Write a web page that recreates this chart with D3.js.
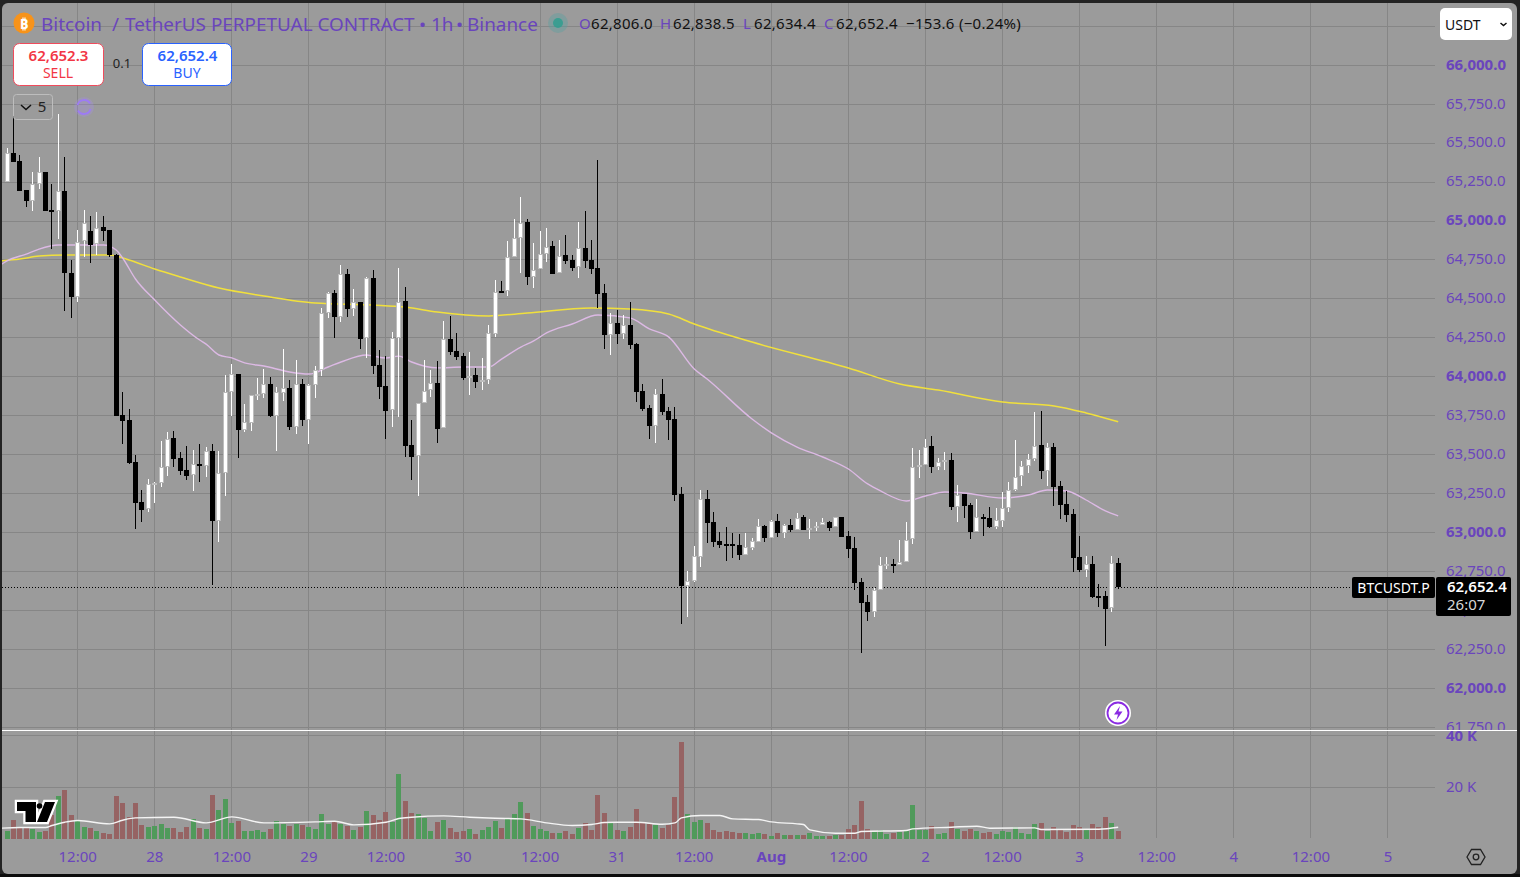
<!DOCTYPE html>
<html><head><meta charset="utf-8">
<script src="https://cdn.jsdelivr.net/npm/d3@7"></script>
<style>html,body{margin:0;padding:0;background:#232323;overflow:hidden}svg{display:block}text{font-family:"Noto Sans",sans-serif}</style>
</head><body><div id="chart"></div>
<script>
const opens=[65251,65437,65386,65199,65129,65238,65315,65071,65065,65193,
64667,64512,64872,64937,64852,64962,64943,64782,63755,63723,
63453,63196,63151,63306,63318,63421,63607,63479,63402,63370,
63440,63428,63524,63075,63383,63902,64018,63659,63704,63876,
63889,63954,63748,63896,63928,63678,63954,63723,63948,64044,
64410,64538,64384,64660,64435,64480,64249,64635,64076,63941,
63787,64249,64487,63562,63492,63832,63915,63960,63672,64242,
64166,64133,63999,64012,63967,63980,64275,64551,64551,64769,
64891,64994,64641,64692,64788,64840,64667,64782,64750,64705,
64827,64750,64699,64538,64269,64346,64275,64333,64210,63909,
63800,63684,63889,63781,63730,63247,62657,62689,62843,63216,
63068,62946,62926,62926,62920,62856,62901,62939,63042,62966,
63075,62998,63049,63017,63100,63017,63030,63049,63068,63036,
63100,62978,62901,62683,62554,62490,62631,62786,62798,62792,
62811,62959,63428,63434,63555,63421,63453,63466,63164,63247,
63177,63004,63100,63094,63036,63075,63158,63273,63363,63428,
63472,63562,63396,63549,63299,63183,63120,62843,62760,62798,
62593,62593,62516,62806];
const highs=[65469,65726,65424,65199,65315,65411,65315,65238,65687,65411,
64750,64943,65071,65032,65058,65032,64943,64788,63902,63793,
63498,63273,63344,63325,63588,63646,63653,63517,63555,63530,
63568,63549,63568,63524,64012,64082,64018,63825,63883,63992,
64050,63999,63935,64178,63980,64108,63986,63954,64069,64442,
64544,64557,64718,64692,64563,64480,64641,64686,64172,64133,
64288,64699,64576,63723,63832,64108,64044,64102,64359,64391,
64282,64153,64159,64057,64121,64333,64622,64615,64872,65013,
65154,65013,64859,64937,64956,64872,64878,64910,64782,64994,
65065,64878,65392,64596,64410,64429,64397,64480,64217,63954,
63819,63921,63986,63806,63806,63292,62753,62914,63273,63273,
63132,63004,63036,62998,62991,62998,62966,63087,63049,63081,
63120,63055,63087,63126,63113,63087,63068,63094,63075,63100,
63100,63010,62972,62709,62599,62644,62843,62843,62830,62952,
63068,63543,63530,63600,63620,63479,63517,63511,63306,63247,
63190,63215,63120,63164,63158,63260,63325,63594,63459,63504,
63774,63781,63575,63575,63331,63267,63151,62978,62850,62850,
62670,62625,62850,62838.5];
const lows=[65251,65379,65193,65090,65065,65206,65065,64820,64885,64423,
64378,64480,64769,64731,64782,64872,64769,63748,63568,63440,
63023,63068,63132,63190,63292,63363,63421,63370,63338,63267,
63325,63357,62664,62939,63235,63748,63479,63646,63653,63851,
63864,63742,63524,63845,63659,63633,63684,63568,63864,64005,
64378,64249,64352,64384,64391,64178,64121,64018,63857,63600,
63678,63742,63485,63338,63235,63832,63870,63575,63672,64140,
64108,63980,63883,63928,63915,63954,64256,64538,64519,64769,
64667,64590,64570,64692,64737,64660,64667,64724,64680,64635,
64699,64660,64442,64178,64140,64210,64242,64178,63838,63781,
63600,63575,63755,63594,63203,62414,62458,62683,62779,62933,
62907,62901,62818,62837,62824,62856,62888,62939,62939,62966,
62972,62966,63004,63017,63017,62959,63010,63049,63010,63036,
62972,62837,62631,62227,62432,62458,62631,62766,62741,62792,
62811,62926,63351,63434,63383,63402,63402,63145,63068,63094,
62959,63004,62978,63030,63023,63036,63132,63267,63299,63383,
63459,63344,63299,63170,63087,63068,62747,62747,62715,62580,
62522,62272,62490,62634.4];
const closes=[65437,65379,65193,65129,65238,65315,65065,65058,65193,64667,
64512,64865,64988,64846,64956,64937,64782,63748,63717,63447,
63190,63145,63312,63318,63421,63601,63472,63396,63363,63440,
63428,63524,63075,63383,63902,64018,63659,63710,63883,63889,
63954,63748,63902,63928,63678,63954,63723,63948,64044,64410,
64538,64384,64660,64435,64480,64242,64635,64069,63935,63781,
64249,64480,63555,63485,63832,63909,63960,63665,64242,64159,
64127,63992,64005,63967,63980,64282,64544,64544,64769,64891,
64988,64641,64686,64788,64833,64660,64776,64744,64699,64827,
64744,64692,64532,64269,64346,64275,64333,64204,63902,63793,
63684,63889,63774,63723,63241,62657,62689,62850,63216,63062,
62939,62920,62920,62914,62856,62907,62946,63042,62966,63075,
62998,63049,63017,63094,63017,63030,63042,63068,63030,63100,
62972,62895,62677,62548,62490,62631,62792,62798,62786,62811,
62952,63421,63434,63549,63421,63453,63466,63164,63241,63170,
63004,63100,63094,63036,63081,63158,63273,63357,63428,63472,
63555,63396,63549,63292,63177,63113,62837,62760,62798,62586,
62586,62510,62805,62652.4];
const volumes=[2850,7380,4140,4140,3880,2590,3110,9320,16690,19020,
9320,7380,4660,4140,3110,2330,1940,16690,13980,8540,
13980,5430,4660,5050,5820,4270,4270,2720,4660,7760,
4270,3880,17080,11260,15530,6210,6990,3110,3110,3490,
2720,3880,6990,5820,5050,5820,5430,4660,3880,9700,
5820,6600,5820,5050,3490,4660,10870,9320,7380,10480,
6600,25230,14750,10090,9700,8150,3110,6600,7380,4270,
2720,3110,3880,1940,3490,4660,6990,4270,8150,9700,
14360,10090,5050,3880,3110,2330,2330,3110,1940,4270,
6210,3490,17080,10090,6080,3490,3110,4660,11650,6470,
5820,5430,4270,5430,16300,37660,9700,6600,7380,6210,
3490,2720,3110,2720,2330,2330,1940,2330,1940,1160,
2330,1550,1550,1550,1550,2330,1160,1160,1160,1550,
1550,3880,5430,14750,3880,2590,3490,1940,2330,2720,
2850,13200,3490,3490,5050,1940,2330,6600,3880,3110,
3880,3110,2330,2720,1940,3110,2720,4660,2330,1940,
5820,6210,3110,4660,3490,2720,5430,4660,3490,5820,
4660,8540,6210,3110];

const fastHours=[-1,0,3,5,8,11,15,17,18,20,23,27,30,31,33,35,37,40,44,47,50,52,56,57,59,61,63,67,71,75,77,80,82,84,88,92,97,100,103,107,109,116,119,123,127,131,134,136,140,143,146,149,155,159,162,165,168,171,173];
const fastMA=[64718,64744,64788,64820,64846,64846,64846,64814,64763,64628,64493,64333,64236,64210,64140,64121,64089,64069,64031,64018,64063,64095,64140,64133,64121,64133,64095,64057,64063,64063,64114,64191,64230,64282,64339,64397,64378,64307,64256,64050,63986,63729,63640,63549,63485,63408,63312,63267,63203,63235,63260,63254,63222,63241,63273,63267,63209,63139,63107];
const slowHours=[-1,2,5,9,16,19,23,27,33,40,48,57,62,67,75,81,91,97,103,107,116,131,139,145,155,163,168,173];
const slowMA=[64744,64756,64775,64782,64782,64750,64692,64641,64570,64519,64474,64461,64448,64416,64391,64410,64442,64435,64403,64339,64223,64057,63954,63915,63838,63813,63768,63711];
const volHours=[-1,2,6,7,9,11,16,18,20,26,31,35,40,48,51,54,59,61,63,68,72,76,80,84,88,91,93,95,98,102,104,105,108,111,113,117,119,123,124,125,129,132,133,140,141,147,151,153,160,161,170,173];
const volMA=[4010,4270,4270,5050,6340,6990,5690,7120,8020,8280,6080,8410,6080,6470,6730,5310,6340,7760,8280,8800,8280,7890,7630,6080,5050,5430,6210,6340,6340,5560,6080,8020,8930,8930,7630,7380,6470,5690,5430,3360,2070,2070,2720,3110,3750,4400,4790,4010,4140,3490,3620,4400];

const priceTicks=[61750,62000,62250,62500,62750,63000,63250,63500,63750,64000,64250,64500,64750,65000,65250,65500,65750,66000,66250];
const volTicks=[20000,40000];
const timeHours=[11,23,35,47,59,71,83,95,107,119,131,143,155,167,179,191,203,215];
const timeLabels=["12:00","28","12:00","29","12:00","30","12:00","31","12:00","Aug","12:00","2","12:00","3","12:00","4","12:00","5"];
const lastPrice=62652.4;

const W=1520,H=877;
const INK="#6a45bd", BG="#9b9b9b", GRID="#868686";
const x=d3.scaleLinear().domain([0,173]).range([7.0,7.0+173*6.423]);
const y=d3.scaleLinear().domain([61750,66000]).range([65.3+4250*0.15575,65.3]);
const yv=d3.scaleLinear().domain([0,40000]).range([838.5,735.7]);
const n=opens.length, idx=d3.range(n);
const svg=d3.select("#chart").append("svg").attr("width",W).attr("height",H).attr("viewBox",`0 0 ${W} ${H}`);
const defs=svg.append("defs");
defs.append("clipPath").attr("id","paneClip").append("rect").attr("x",2).attr("y",3).attr("width",1515).attr("height",727);
defs.append("clipPath").attr("id","frameClip").append("rect").attr("x",2).attr("y",3).attr("width",1515).attr("height",871).attr("rx",6);
svg.append("rect").attr("width",W).attr("height",H).attr("fill","#232323");
svg.append("rect").attr("y",874).attr("width",W).attr("height",3).attr("fill","#0c0c0c");
const root=svg.append("g").attr("clip-path","url(#frameClip)");
root.append("rect").attr("x",2).attr("y",3).attr("width",1515).attr("height",871).attr("fill",BG);

const crisp=v=>Math.round(v)+0.5;
const px=v=>Math.floor(v);
// grid
const gridG=root.append("g").attr("stroke",GRID).attr("stroke-width",1);
gridG.selectAll("line.v").data(timeHours).join("line").attr("x1",d=>px(x(d))+0.5).attr("x2",d=>px(x(d))+0.5).attr("y1",3).attr("y2",838);
const paneGrid=root.append("g").attr("clip-path","url(#paneClip)").attr("stroke",GRID);
paneGrid.selectAll("line").data(priceTicks).join("line").attr("x1",2).attr("x2",1435).attr("y1",d=>Math.floor(y(d))+0.5).attr("y2",d=>Math.floor(y(d))+0.5);
gridG.selectAll("line.h").data(volTicks).join("line").attr("x1",2).attr("x2",1435).attr("y1",d=>Math.floor(yv(d))+0.5).attr("y2",d=>Math.floor(yv(d))+0.5);

// volume
root.append("g").selectAll("rect").data(idx).join("rect")
 .attr("x",i=>px(x(i))-2).attr("width",5)
 .attr("y",i=>Math.round(yv(volumes[i]))).attr("height",i=>839-Math.round(yv(volumes[i])))
 .attr("fill",i=>closes[i]>=opens[i]?"#509a5b":"#966363");
const line=(xs,sx,sy)=>d3.line().x((d,i)=>sx(xs[i])).y(d=>sy(d)).curve(d3.curveMonotoneX);
root.append("path").datum(volMA).attr("d",line(volHours,x,yv)).attr("fill","none").attr("stroke","#f4f4f4").attr("stroke-width",1.4);

const pane=root.append("g").attr("clip-path","url(#paneClip)");
// MAs
pane.append("path").datum(slowMA).attr("d",line(slowHours,x,y)).attr("fill","none").attr("stroke","#f1e03c").attr("stroke-width",1.5);
pane.append("path").datum(fastMA).attr("d",line(fastHours,x,y)).attr("fill","none").attr("stroke","#dcb9e4").attr("stroke-width",1.4);
// last-price dotted
pane.append("line").attr("x1",2).attr("x2",1352).attr("y1",crisp(y(lastPrice))).attr("y2",crisp(y(lastPrice))).attr("stroke","#000").attr("stroke-dasharray","1 2");
// candles
const up=i=>closes[i]>=opens[i];
const cg=pane.append("g");
cg.selectAll("line").data(idx).join("line")
 .attr("x1",i=>px(x(i))+0.5).attr("x2",i=>px(x(i))+0.5)
 .attr("y1",i=>Math.round(y(highs[i]))).attr("y2",i=>Math.round(y(lows[i])))
 .attr("stroke",i=>up(i)?"#fff":"#000");
cg.selectAll("rect").data(idx).join("rect")
 .attr("x",i=>px(x(i))-2+(up(i)?0.5:0))
 .attr("width",i=>up(i)?4:5)
 .attr("y",i=>Math.round(y(Math.max(opens[i],closes[i])))+(up(i)?0.5:0))
 .attr("height",i=>Math.max(up(i)?1:2,Math.round(y(Math.min(opens[i],closes[i])))-Math.round(y(Math.max(opens[i],closes[i])))-(up(i)?1:0)))
 .attr("fill",i=>up(i)?"#fff":"#000")
 .attr("stroke",i=>up(i)?"#bdbdbd":"none");

// separator
root.append("line").attr("x1",2).attr("x2",1517).attr("y1",730.5).attr("y2",730.5).attr("stroke","#fff");

// price axis
const money=d3.format(",.1f");
const priceAxis=d3.axisRight(y).tickValues(priceTicks.filter(d=>d<66250)).tickSize(0).tickPadding(0).tickFormat(money);
const pa=pane.append("g").attr("transform","translate(1446,-1)").call(priceAxis);
pa.select(".domain").remove();
pa.selectAll("text").attr("fill",INK).attr("font-size",15).attr("font-weight",d=>d%1000===0?700:400).style("font-family",'"Noto Sans",sans-serif');
const volAxis=d3.axisRight(yv).tickValues(volTicks).tickSize(0).tickPadding(0).tickFormat(d=>(d/1000)+" K");
const va=root.append("g").attr("transform","translate(1446,-0.5)").call(volAxis);
va.select(".domain").remove();
va.selectAll("text").attr("fill",INK).attr("font-size",15).attr("font-weight",d=>d===40000?700:400).style("font-family",'"Noto Sans",sans-serif');
// time axis
const timeAxis=d3.axisBottom(x).tickValues(timeHours).tickSize(0).tickPadding(0).tickFormat((d,i)=>timeLabels[i]);
const ta=root.append("g").attr("transform","translate(-0.5,851)").call(timeAxis);
ta.select(".domain").remove();
ta.selectAll("text").attr("fill",INK).attr("font-size",15).attr("font-weight",(d,i)=>timeLabels[i]==="Aug"?700:400).style("font-family",'"Noto Sans",sans-serif');

const T=(p,s,xx,yy,size,fill,opt={})=>p.append("text").text(s).attr("x",xx).attr("y",yy).attr("font-size",size).attr("fill",fill)
  .attr("text-anchor",opt.a||"start").attr("font-weight",opt.w||400).attr("dominant-baseline","central");
const ui=root.append("g");
// header
ui.append("circle").attr("cx",24).attr("cy",23).attr("r",10.5).attr("fill","#f7931a");
T(ui,"₿",24,23,15,"#fff",{a:"middle",w:700});
const title=ui.append("text").attr("y",24).attr("font-size",18.9).attr("fill",INK).attr("dominant-baseline","central");
[["Bitcoin",41],["/",112],["TetherUS PERPETUAL CONTRACT",125],["•",419],["1h",431],["•",456],["Binance",467]]
 .forEach(([s,xx])=>title.append("tspan").attr("x",xx).text(s));
ui.append("circle").attr("cx",558).attr("cy",23).attr("r",10).attr("fill","#5fa0a0").attr("opacity",.45);
ui.append("circle").attr("cx",558).attr("cy",23).attr("r",5).attr("fill","#2a9d8f").attr("opacity",.8);
const hd=ui.append("text").attr("y",23).attr("font-size",15).attr("letter-spacing",0.3).attr("dominant-baseline","central");
[["O",579,INK],["62,806.0",591,"#111"],["H",660,INK],["62,838.5",673,"#111"],["L",743,INK],["62,634.4",754,"#111"],["C",824,INK],["62,652.4",836,"#111"],["−153.6 (−0.24%)",906,"#111"]]
 .forEach(([s,xx,c])=>hd.append("tspan").attr("x",xx).attr("fill",c).text(s));
// buttons
ui.append("rect").attr("x",13.5).attr("y",43.5).attr("width",90).attr("height",42).attr("rx",6).attr("fill","#fff").attr("stroke","#f04b5c");
T(ui,"62,652.3",58.5,54.5,15,"#f23645",{a:"middle",w:600});
T(ui,"SELL",58,72,14,"#f23645",{a:"middle"});
T(ui,"0.1",122,63,13,"#222",{a:"middle"});
ui.append("rect").attr("x",142.5).attr("y",43.5).attr("width",89).attr("height",42).attr("rx",6).attr("fill","#fff").attr("stroke","#2962ff");
T(ui,"62,652.4",187.5,54.5,15,"#2962ff",{a:"middle",w:600});
T(ui,"BUY",187,72,14,"#2962ff",{a:"middle"});
ui.append("rect").attr("x",13.5).attr("y",94.5).attr("width",39).attr("height",25).attr("rx",3).attr("fill","none").attr("stroke","#bdbdbd");
ui.append("path").attr("d","M21 105 L26 109.5 L31 105").attr("fill","none").attr("stroke","#111").attr("stroke-width",1.5);
T(ui,"5",42,106,15,"#222",{a:"middle"});
ui.append("circle").attr("cx",84).attr("cy",107).attr("r",10).attr("fill","#a78bfa").attr("opacity",.25);
ui.append("path").attr("d","M77.5 105 A6.8 6.8 0 0 1 90 103.5 M90.5 109 A6.8 6.8 0 0 1 78 110.5").attr("fill","none").attr("stroke","#9d7bf5").attr("stroke-width",1.8);
// USDT
ui.append("rect").attr("x",1440).attr("y",8).attr("width",72).attr("height",32).attr("rx",5).attr("fill","#fff");
T(ui,"USDT",1445,24,14,"#111");
ui.append("path").attr("d","M1500.5 23 L1503.5 25.5 L1506.5 23").attr("fill","none").attr("stroke","#111").attr("stroke-width",1.5);
// last-price badges
ui.append("rect").attr("x",1352).attr("y",577).attr("width",83).attr("height",21).attr("rx",2).attr("fill","#000");
T(ui,"BTCUSDT.P",1393.5,587,14,"#fff",{a:"middle"});
ui.append("rect").attr("x",1436).attr("y",577).attr("width",75).attr("height",39).attr("rx",2).attr("fill","#000");
T(ui,"62,652.4",1447,586,15,"#fff",{w:600});
T(ui,"26:07",1447,604,15,"#d8d8d8");
// bolt icon
ui.append("circle").attr("cx",1118).attr("cy",713).attr("r",13).attr("fill","#fff");
ui.append("circle").attr("cx",1118).attr("cy",713).attr("r",10.5).attr("fill","none").attr("stroke","#8a2be2").attr("stroke-width",1.8);
ui.append("path").attr("d","M1120 706 L1114 714.5 L1118 714.5 L1116.5 720 L1122.5 711.5 L1118.5 711.5 Z").attr("fill","#8a2be2");
// settings
ui.append("path").attr("d","M1467 857 L1471.5 849.5 L1480.5 849.5 L1485 857 L1480.5 864.5 L1471.5 864.5 Z").attr("fill","none").attr("stroke","#222").attr("stroke-width",1.3);
ui.append("circle").attr("cx",1476).attr("cy",857).attr("r",2.8).attr("fill","none").attr("stroke","#222").attr("stroke-width",1.3);
// TV logo
const logoShape="M17 802 H36 V822 H25.5 V811 H17 Z M45 802 H55 L47 822 H37 Z";
ui.append("path").attr("d",logoShape).attr("fill","#fff").attr("stroke","#fff").attr("stroke-width",4.5).attr("stroke-linejoin","miter");
ui.append("path").attr("d",logoShape).attr("fill","#000");
ui.append("circle").attr("cx",39.5).attr("cy",806).attr("r",2.8).attr("fill","#000");
</script></body></html>
